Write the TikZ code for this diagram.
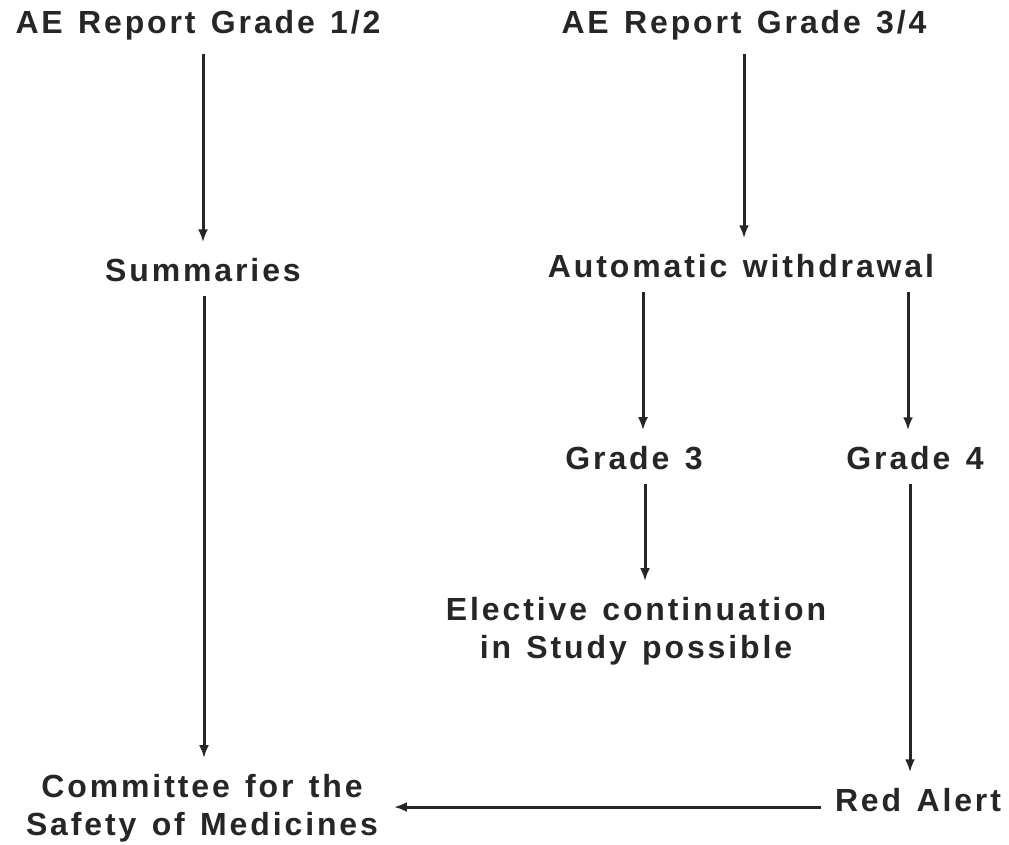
\documentclass[tikz,border=0pt]{standalone}
\usepackage{fontspec}
\setmainfont[LetterSpace=9,WordSpace=1.3]{Liberation Sans}
\usetikzlibrary{arrows.meta}
\begin{document}
\begin{tikzpicture}[x=1pt,y=-1pt,
  lbl/.style={inner sep=0pt,outer sep=0pt,align=center,
    font=\fontsize{32}{38}\selectfont\bfseries,text=black!85},
  arr/.style={line width=3pt,draw=black!85,
    -{Latex[length=13pt,width=10pt]},shorten <=14pt,shorten >=16pt}]
\useasboundingbox (0,0) rectangle (1009,844);

% first row
\node[lbl] (t12) at (198,25) {AE Report Grade 1/2};
\node[lbl] (t34) at (744,25) {AE Report Grade 3/4};
% second row
\node[lbl] (sum) at (203,270) {Summaries};
\node[lbl] (aw)  at (741,266) {Automatic withdrawal};
% grades
\node[lbl] (g3) at (634,458) {Grade 3};
\node[lbl] (g4) at (915,458) {Grade 4};
\node[lbl] (el) at (636,631) {Elective continuation\\in Study possible};
% bottom row
\node[lbl] (ra)  at (918,800) {Red Alert};
\node[lbl] (csm) at (202,808) {Committee for the\\Safety of Medicines};

% connectors
\draw[arr] ([xshift=5pt]t12.south) -- ([xshift=5pt]t12.south |- sum.north);
\draw[arr] (t34.south) -- (t34.south |- aw.north);
\draw[arr] ([xshift=1pt]sum.south) -- ([xshift=1pt]sum.south |- csm.north);
\draw[arr] ([xshift=9pt]g3.north |- aw.south) -- ([xshift=9pt]g3.north);
\draw[arr] ([xshift=-7pt]g4.north |- aw.south) -- ([xshift=-7pt]g4.north);
\draw[arr] ([xshift=11pt]g3.south) -- ([xshift=11pt]g3.south |- el.north);
\draw[arr] ([xshift=-5pt]g4.south) -- ([xshift=-5pt]g4.south |- ra.north);
\draw[arr] ([yshift=-7pt]ra.west) -- ([yshift=-7pt]ra.west -| csm.east);
\end{tikzpicture}
\end{document}
